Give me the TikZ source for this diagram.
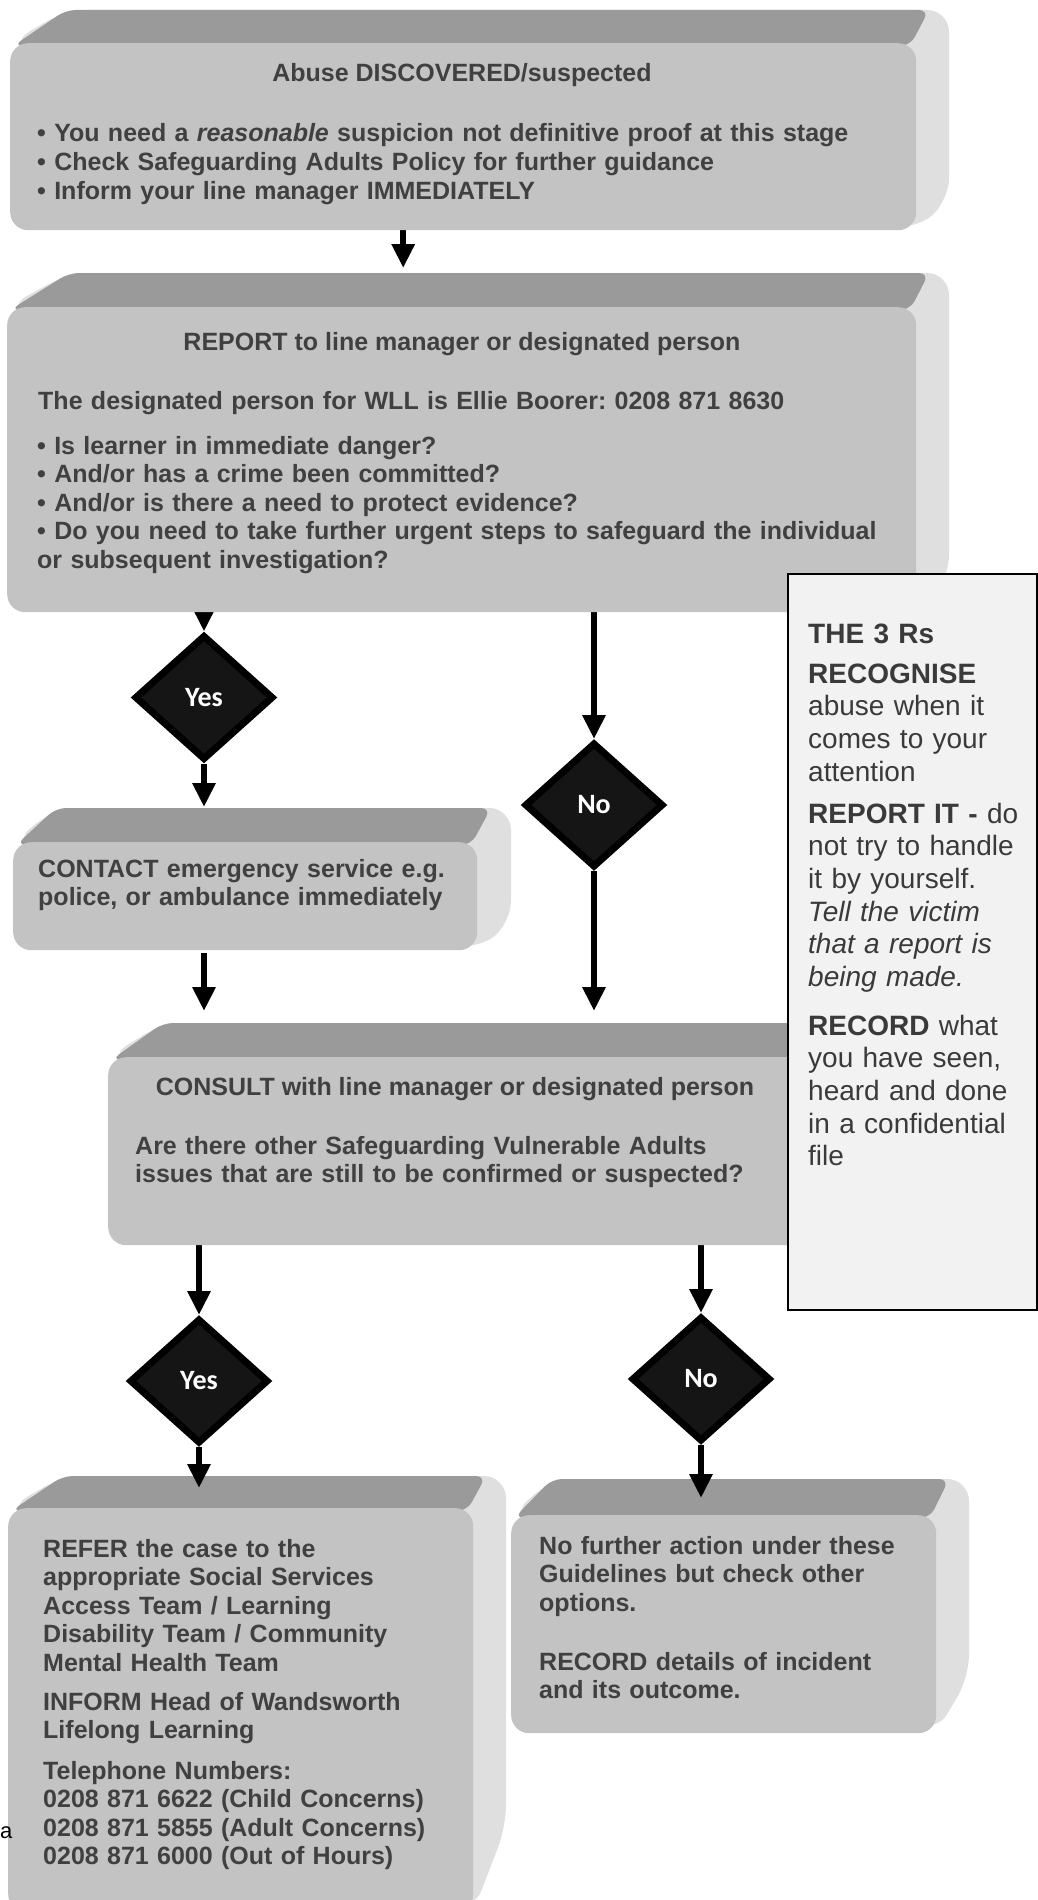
\documentclass[tikz,border=0pt]{standalone}
\usepackage{fontspec}
\setmainfont{Liberation Sans}
\newfontfamily\yesnofont{Carlito}
\usetikzlibrary{arrows.meta,shapes.geometric}
\frenchspacing
\definecolor{frontc}{HTML}{C3C3C3}
\definecolor{topc}{HTML}{9A9A9A}
\definecolor{sidec}{HTML}{DFDFDF}
\definecolor{txtc}{HTML}{404040}
\definecolor{rstxt}{HTML}{3A3A3A}
\definecolor{rsfill}{HTML}{F2F2F2}
\definecolor{dfill}{HTML}{151515}
\pgfdeclarelayer{back}
\pgfsetlayers{back,main}
\tikzset{
  front/.style={rectangle, rounded corners=18pt, fill=frontc, draw=none, inner sep=0pt},
  rsbox/.style={rectangle, draw=black, line width=2pt, fill=rsfill, inner sep=0pt},
  mt/.style={text=txtc, font=\frenchspacing\bfseries\fontsize{25}{28.6}\selectfont, inner sep=0pt, align=left, text width=880pt, anchor=base west},
  mtc/.style={text=txtc, font=\frenchspacing\bfseries\fontsize{25}{28.6}\selectfont, inner sep=0pt, anchor=base},
  rt/.style={text=rstxt, font=\frenchspacing\fontsize{28}{32.7}\selectfont, inner sep=0pt, align=left, text width=222pt, anchor=base west},
  dia/.style={diamond, fill=dfill, draw=black, line width=7pt, minimum width=139, minimum height=125, inner sep=0pt, text=white, font=\yesnofont\bfseries\fontsize{28}{30}\selectfont},
  arr/.style={draw=black, line width=6.5pt, -{Triangle[length=24pt,width=22pt]}}
}
% #1 name, #2 x0, #3 y0, #4 x1, #5 y1, #6 left depth dx, #7 right depth dx, #8 depth dy, #9 y of back bottom right
\newcommand\solidbox[9]{%
  \fill[sidec, rounded corners=22pt]
    (#2,#3) -- (#2+#6,#3-#8) -- (#4+#7,#3-#8) -- (#4+#7,#9) -- (#4,#5) -- cycle;
  \fill[topc, rounded corners=10pt]
    (#2+3,#3+3) -- (#2+#6,#3-#8) -- (#4+#7-20,#3-#8) -- (#4-6,#3+3) -- cycle;
  \node[front, minimum width=#4-#2, minimum height=#5-#3, anchor=north west] (#1) at (#2,#3) {};
  \coordinate (#1-top) at (#2,#3-#8);
}
\begin{document}
\begin{tikzpicture}[x=1pt,y=-1pt]
\useasboundingbox (0,0) rectangle (1037,1900);
\begin{pgfonlayer}{back}
  \fill[white] (0,0) rectangle (1037,1900);
\end{pgfonlayer}

% boxes
\solidbox{b1}{10}{43}{916}{230}{56}{33}{33}{200}
\solidbox{b2}{7}{307}{916}{612}{62}{33}{34}{578}
\solidbox{contact}{13}{842}{477}{950}{43}{34}{34}{923}
\solidbox{consult}{108}{1057}{916}{1245}{55}{33}{34}{1211}
\solidbox{refer}{8}{1508}{473}{1912}{55}{33}{32}{1827}
\solidbox{nofurther}{511}{1515}{936}{1733}{41}{33}{36}{1677}

% side panel
\node[rsbox, minimum width=249, minimum height=736, anchor=north west] (rs) at (787,573) {};

% texts
\node[mtc] (b1title) at (462,82) {Abuse DISCOVERED/suspected};
\node[mt] (b1list) at (37,142) {• You need a \textit{reasonable} suspicion not definitive proof at this stage\\ • Check Safeguarding Adults Policy for further guidance\\ • Inform your line manager IMMEDIATELY};

\node[mtc] (b2title) at (462,350) {REPORT to line manager or designated person};
\node[mt] (b2who) at (38,409) {The designated person for WLL is Ellie Boorer: 0208 871 8630};
\node[mt] (b2list) at (37,454) {• Is learner in immediate danger?\\ • And/or has a crime been committed?\\ • And/or is there a need to protect evidence?\\ • Do you need to take further urgent steps to safeguard the individual\\ or subsequent investigation?};

\node[mt] (ctxt) at (38,877) {CONTACT emergency service e.g.\\ police, or ambulance immediately};

\node[mtc] (cstitle) at (455,1095) {CONSULT with line manager or designated person};
\node[mt] (csq) at (135,1154) {Are there other Safeguarding Vulnerable Adults\\ issues that are still to be confirmed or suspected?};

\node[mt] (rf1) at (43,1557) {REFER the case to the\\ appropriate Social Services\\ Access Team / Learning\\ Disability Team / Community\\ Mental Health Team};
\node[mt] (rf2) at (43,1710) {INFORM Head of Wandsworth\\ Lifelong Learning};
\node[mt] (rf3) at (43,1779) {Telephone Numbers:\\ 0208 871 6622 (Child Concerns)\\ 0208 871 5855 (Adult Concerns)\\ 0208 871 6000 (Out of Hours)};

\node[mt] (nf1) at (539,1554) {No further action under these\\ Guidelines but check other\\ options.};
\node[mt] (nf2) at (539,1670) {RECORD details of incident\\ and its outcome.};

\node[rt] (r1) at (808,643) {\textbf{THE 3 Rs}};
\node[rt] (r2) at (808,683) {\textbf{RECOGNISE}\\ abuse when it\\ comes to your\\ attention};
\node[rt] (r3) at (808,823) {\textbf{REPORT IT -} do\\ not try to handle\\ it by yourself.\\ \textit{Tell the victim}\\ \textit{that a report is}\\ \textit{being made.}};
\node[rt] (r4) at (808,1035) {\textbf{RECORD} what\\ you have seen,\\ heard and done\\ in a confidential\\ file};

\node[anchor=base west, inner sep=0pt, font=\fontsize{22}{22}\selectfont] (stray) at (0,1838) {a};

% decisions
\node[dia] (yes1) at (204,697.5) {Yes};
\node[dia] (no1) at (594,805) {No};
\node[dia] (yes2) at (199,1381) {Yes};
\node[dia] (no2) at (701,1379) {No};

% connectors
\begin{pgfonlayer}{back}
  \draw[arr] ([xshift=-60pt]b1.south) -- ([xshift=-60pt,yshift=5pt]b1.south |- b2-top);
  \draw[arr] (yes1.north |- b2.south) -- (yes1.north);
  \draw[arr] (yes1.south) -- ([yshift=1pt]yes1.south |- contact-top);
  \draw[arr] ([yshift=-3pt]yes1.south |- contact.south) -- ([yshift=12pt]yes1.south |- consult-top);
  \draw[arr] (no1.north |- b2.south) -- (no1.north);
  \draw[arr] (no1.south) -- ([yshift=12pt]no1.south |- consult-top);
  \draw[arr] (yes2.north |- consult.south) -- (yes2.north);
  \draw[arr] (no2.north |- consult.south) -- (no2.north);
\end{pgfonlayer}
\draw[arr] (yes2.south) -- ([yshift=-12pt]yes2.south |- refer-top);
\draw[arr] (no2.south) -- ([yshift=-19pt]no2.south |- nofurther-top);
\end{tikzpicture}
\end{document}
